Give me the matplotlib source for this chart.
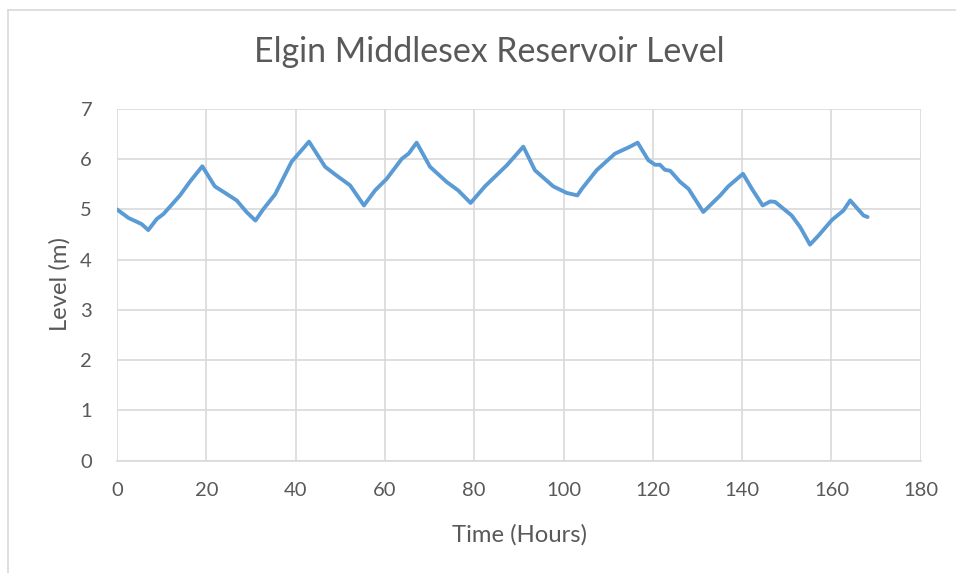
import matplotlib.pyplot as plt
from matplotlib.lines import Line2D

# hourly reservoir level
hours = [0, 2.6, 5.5, 7.0, 8.9, 10.4, 14.1, 16.3, 19.1, 21.9, 24.2, 26.8, 29.0, 31.0,
         32.8, 35.4, 39.1, 43.0, 46.6, 48.8, 52.2, 55.3, 57.8, 60.4, 63.8, 65.3,
         67.1, 70.1, 73.8, 76.4, 79.2, 82.4, 87.3, 91.0, 93.6, 97.7, 100.7, 103.1,
         104.1, 107.4, 111.5, 114.9, 116.6, 119.0, 120.5, 121.6, 122.7, 123.9,
         126.1, 128.0, 131.3, 135.1, 136.9, 140.2, 142.2, 144.6, 146.3, 147.4,
         151.1, 153.0, 155.2, 157.1, 160.1, 162.7, 164.2, 167.2, 168.1]
level = [5.00, 4.83, 4.71, 4.59, 4.81, 4.91, 5.28, 5.55, 5.86, 5.46, 5.33, 5.18,
         4.95, 4.78, 5.01, 5.30, 5.95, 6.35, 5.85, 5.70, 5.48, 5.08, 5.38, 5.61,
         6.01, 6.11, 6.33, 5.85, 5.55, 5.38, 5.13, 5.46, 5.88, 6.25, 5.78, 5.46,
         5.33, 5.28, 5.41, 5.78, 6.11, 6.25, 6.33, 5.98, 5.89, 5.89, 5.79, 5.77,
         5.55, 5.41, 4.95, 5.28, 5.46, 5.71, 5.41, 5.08, 5.16, 5.15, 4.88, 4.65,
         4.30, 4.48, 4.79, 4.98, 5.18, 4.88, 4.85]

xticks = list(range(0, 181, 20))
yticks = list(range(0, 8))

txt = '#595959'
grid = '#D9D9D9'
plt.rcParams['font.family'] = ['Lato', 'DejaVu Sans']

fig = plt.figure(figsize=(9.56, 5.73), dpi=100)
ax = fig.add_axes([0.1224, 0.196, 0.8407, 0.6138])

ax.plot(hours, level, color='#5B9BD5', lw=2.8, solid_capstyle='round',
        solid_joinstyle='round', zorder=3)

ax.set_xlim(0, 180)
ax.set_ylim(0, 7)
ax.set_xticks(xticks)
ax.set_yticks(yticks)
ax.grid(True, color=grid, lw=1.2)
ax.tick_params(length=0, labelsize=14.5, colors=txt)
ax.tick_params(axis='x', pad=15.5)
ax.tick_params(axis='y', pad=18)
for s in ['top', 'right', 'left']:
    ax.spines[s].set_visible(False)
ax.spines['bottom'].set_color(grid)
ax.spines['bottom'].set_linewidth(1.2)

fig.text(0.5115, 0.891, 'Elgin Middlesex Reservoir Level', fontsize=24.4,
         color=txt, ha='center', va='baseline')
fig.text(0.543, 0.0546, 'Time (Hours)', fontsize=17.2, color=txt,
         ha='center', va='baseline')
fig.text(0.0628, 0.5044, 'Level (m)', fontsize=17.2, color=txt, rotation=90,
         ha='center', va='center')

# chart area border (left and top edges visible)
fig.add_artist(Line2D([0.0085, 0.0085], [0, 0.983], transform=fig.transFigure,
                      color=grid, lw=1.2))
fig.add_artist(Line2D([0.0085, 1], [0.983, 0.983], transform=fig.transFigure,
                      color=grid, lw=1.2))

fig.savefig('out.png', dpi=100)
